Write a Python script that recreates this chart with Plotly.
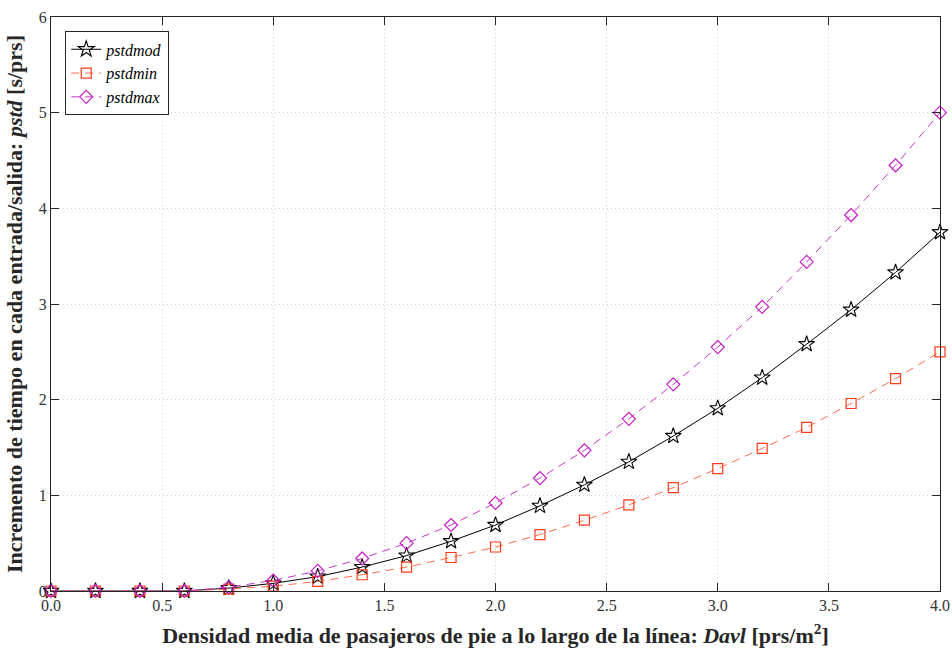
import plotly.graph_objects as go

# Mean standing-passenger density along the line [prs/m^2]
davl = [0.0, 0.2, 0.4, 0.6, 0.8, 1.0, 1.2, 1.4, 1.6, 1.8, 2.0,
        2.2, 2.4, 2.6, 2.8, 3.0, 3.2, 3.4, 3.6, 3.8, 4.0]

# Time increment per boarding/alighting [s/prs]
pstdmod = [0, 0, 0, 0, 0.03, 0.08, 0.15, 0.25, 0.37, 0.52, 0.69,
           0.89, 1.11, 1.35, 1.62, 1.91, 2.23, 2.58, 2.94, 3.33, 3.75]
pstdmin = [0, 0, 0, 0, 0.02, 0.05, 0.10, 0.17, 0.25, 0.35, 0.46,
           0.59, 0.74, 0.90, 1.08, 1.28, 1.49, 1.71, 1.96, 2.22, 2.50]
pstdmax = [0, 0, 0, 0, 0.04, 0.11, 0.21, 0.34, 0.50, 0.69, 0.92,
           1.18, 1.47, 1.80, 2.16, 2.55, 2.97, 3.44, 3.93, 4.45, 5.00]

x_ticks = [0.0, 0.5, 1.0, 1.5, 2.0, 2.5, 3.0, 3.5, 4.0]
y_ticks = [0, 1, 2, 3, 4, 5, 6]

SERIF = "Liberation Serif"

fig = go.Figure()
fig.add_trace(go.Scatter(
    x=davl, y=pstdmod, name="<i>pstdmod</i>", mode="lines+markers",
    line=dict(color="#000000", width=1),
    marker=dict(symbol="star-open", size=12, color="#000000", line=dict(width=1.1)),
    cliponaxis=False,
))
fig.add_trace(go.Scatter(
    x=davl, y=pstdmin, name="<i>pstdmin</i>", mode="lines+markers",
    line=dict(color="#FF6A4A", width=1, dash="8px,6px"),
    marker=dict(symbol="square-open", size=10, color="#FF3A1A", line=dict(width=1.2)),
    cliponaxis=False,
))
fig.add_trace(go.Scatter(
    x=davl, y=pstdmax, name="<i>pstdmax</i>", mode="lines+markers",
    line=dict(color="#CC33CC", width=1, dash="8px,6px"),
    marker=dict(symbol="diamond-open", size=10, color="#C41FC4", line=dict(width=1.2)),
    cliponaxis=False,
))

axis_common = dict(
    showline=True, linecolor="#262626", linewidth=1, mirror="ticks",
    ticks="inside", ticklen=8, tickcolor="#262626", tickwidth=1,
    showgrid=True, gridcolor="#D0D0D0", griddash="1px,3px", gridwidth=1,
    zeroline=False, automargin=False,
    tickfont=dict(family=SERIF, size=16, color="#333333"),
)

fig.update_layout(
    width=952, height=653,
    margin=dict(l=51, r=12, t=17, b=62),
    paper_bgcolor="white", plot_bgcolor="white",
    xaxis=dict(
        range=[0, 4], tickvals=x_ticks,
        ticktext=[f"{v:.1f}" for v in x_ticks],
        title=dict(
            text="<b>Densidad media de pasajeros de pie a lo largo de la línea: <i>Davl</i> [prs/m<sup>2</sup>]</b>",
            font=dict(family=SERIF, size=22, color="#262626"), standoff=14),
        **axis_common,
    ),
    yaxis=dict(
        range=[0, 6], tickvals=y_ticks,
        ticktext=[str(v) for v in y_ticks],
        title=dict(
            text="<b>Incremento de tiempo en cada entrada/salida: <i>pstd</i> [s/prs]</b>",
            font=dict(family=SERIF, size=22, color="#262626"), standoff=10),
        **axis_common,
    ),
    legend=dict(
        x=0.016, y=0.975, xanchor="left", yanchor="top",
        bgcolor="white", bordercolor="#262626", borderwidth=1,
        font=dict(family=SERIF, size=16, color="#000000"),
        tracegroupgap=0, itemwidth=30,
    ),
    showlegend=True,
)

fig.write_html("out.html")
